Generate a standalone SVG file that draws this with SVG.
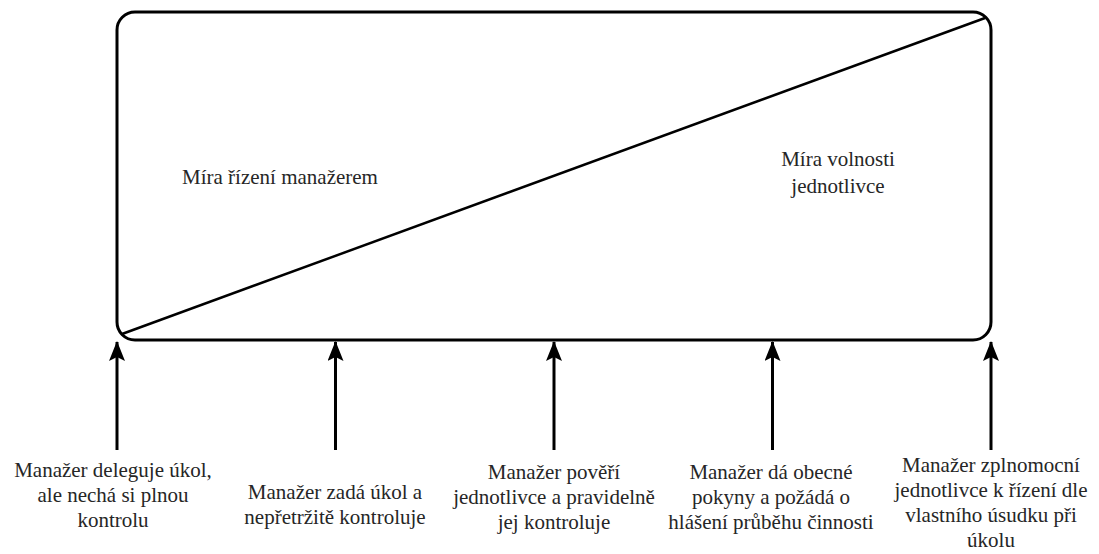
<svg xmlns="http://www.w3.org/2000/svg" width="1099" height="554" viewBox="0 0 1099 554">
  <style>
    .frame { fill: #ffffff; stroke: #000000; stroke-width: 3; }
    .line { fill: none; stroke: #000000; stroke-width: 2.5; }
    .conn { fill: none; stroke: #000000; stroke-width: 3; }
    .t { font-family: Liberation Serif, Times New Roman, Times, serif; font-size: 21px; fill: #262626; text-anchor: middle; }
  </style>
  <defs>
    <marker id="arrow" viewBox="0 0 20 16" refX="19" refY="8" markerWidth="20" markerHeight="16" markerUnits="userSpaceOnUse" orient="auto">
      <path d="M0,0 L20,8 L0,16 L4,8 Z" fill="#000000"/>
    </marker>
  </defs>
  <rect width="1099" height="554" fill="#ffffff"/>

  <g id="frame">
    <rect class="frame" x="117" y="12" width="874" height="328" rx="18" ry="18"/>
    <line class="line" x1="122" y1="334" x2="985" y2="18"/>
  </g>

  <g id="label-control">
    <text class="t" x="280" y="184">Míra řízení manažerem</text>
  </g>
  <g id="label-freedom">
    <text class="t" x="838" y="166">Míra volnosti</text>
    <text class="t" x="838" y="193">jednotlivce</text>
  </g>
  <g id="node1">
    <text class="t" x="113" y="477">Manažer deleguje úkol,</text>
    <text class="t" x="113" y="502">ale nechá si plnou</text>
    <text class="t" x="113" y="527">kontrolu</text>
  </g>
  <g id="node2">
    <text class="t" x="335" y="499">Manažer zadá úkol a</text>
    <text class="t" x="335" y="524">nepřetržitě kontroluje</text>
  </g>
  <g id="node3">
    <text class="t" x="554" y="479">Manažer pověří</text>
    <text class="t" x="554" y="504">jednotlivce a pravidelně</text>
    <text class="t" x="554" y="529">jej kontroluje</text>
  </g>
  <g id="node4">
    <text class="t" x="771" y="479">Manažer dá obecné</text>
    <text class="t" x="771" y="504">pokyny a požádá o</text>
    <text class="t" x="771" y="529">hlášení průběhu činnosti</text>
  </g>
  <g id="node5">
    <text class="t" x="991" y="472">Manažer zplnomocní</text>
    <text class="t" x="991" y="497">jednotlivce k řízení dle</text>
    <text class="t" x="991" y="522">vlastního úsudku při</text>
    <text class="t" x="991" y="547">úkolu</text>
  </g>

  <g id="connectors">
    <line class="conn" x1="117" y1="450" x2="117" y2="342" marker-end="url(#arrow)"/>
    <line class="conn" x1="335.5" y1="450" x2="335.5" y2="342" marker-end="url(#arrow)"/>
    <line class="conn" x1="554" y1="450" x2="554" y2="342" marker-end="url(#arrow)"/>
    <line class="conn" x1="772.5" y1="450" x2="772.5" y2="342" marker-end="url(#arrow)"/>
    <line class="conn" x1="991" y1="450" x2="991" y2="342" marker-end="url(#arrow)"/>
  </g>
</svg>
